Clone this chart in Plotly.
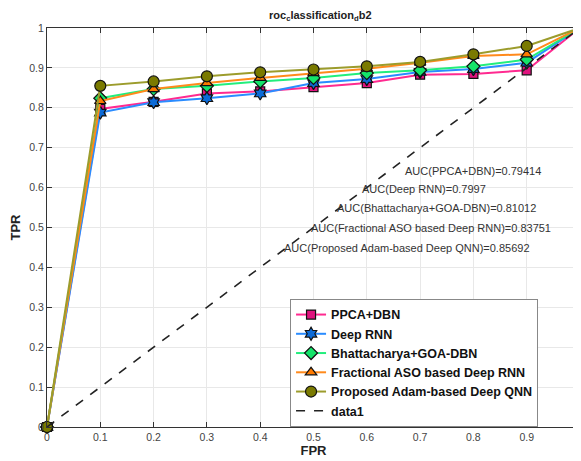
import plotly.graph_objects as go

fpr = [0, 0.1, 0.2, 0.3, 0.4, 0.5, 0.6, 0.7, 0.8, 0.9, 1.0]
ppca_dbn = [0, 0.797, 0.815, 0.836, 0.841, 0.852, 0.862, 0.883, 0.885, 0.894, 1.0]
deep_rnn = [0, 0.788, 0.814, 0.824, 0.836, 0.862, 0.872, 0.890, 0.897, 0.913, 1.0]
bhatt_goa = [0, 0.824, 0.847, 0.855, 0.866, 0.875, 0.887, 0.894, 0.904, 0.921, 1.0]
frac_aso = [0, 0.817, 0.847, 0.862, 0.875, 0.887, 0.898, 0.913, 0.930, 0.934, 1.0]
proposed = [0, 0.855, 0.866, 0.879, 0.889, 0.896, 0.904, 0.915, 0.934, 0.955, 1.0]
diag_x = [0, 1]
diag_y = [0, 1]

names = ["PPCA+DBN", "Deep RNN", "Bhattacharya+GOA-DBN",
         "Fractional ASO based Deep RNN", "Proposed Adam-based Deep QNN"]
auc_texts = ["AUC(PPCA+DBN)=0.79414", "AUC(Deep RNN)=0.7997",
             "AUC(Bhattacharya+GOA-DBN)=0.81012",
             "AUC(Fractional ASO based Deep RNN)=0.83751",
             "AUC(Proposed Adam-based Deep QNN)=0.85692"]
auc_x = [0.668, 0.587, 0.540, 0.491, 0.440]
auc_y = [0.641, 0.596, 0.548, 0.498, 0.448]
tick_vals = [0, 0.1, 0.2, 0.3, 0.4, 0.5, 0.6, 0.7, 0.8, 0.9, 1]
tick_text = ["0", "0.1", "0.2", "0.3", "0.4", "0.5", "0.6", "0.7", "0.8", "0.9", "1"]

series = [ppca_dbn, deep_rnn, bhatt_goa, frac_aso, proposed]
line_colors = ["#FF2A90", "#2A8CFF", "#22EE7C", "#FF8A1C", "#9C9C2C"]
fill_colors = ["#E0137E", "#0C6BD8", "#14E46A", "#FF7A00", "#7A7A00"]
symbols = ["square", "hexagram", "diamond", "triangle-up", "circle"]
sizes = [9, 10, 10, 10, 11]

FONT = "Liberation Sans, Arial, sans-serif"

fig = go.Figure()
for ys, nm, lc, fc, sy, sz in zip(series, names, line_colors, fill_colors, symbols, sizes):
    fig.add_trace(go.Scatter(
        x=fpr, y=ys, name="<b>" + nm + "</b>", mode="lines+markers",
        line=dict(color=lc, width=2),
        marker=dict(symbol=sy, size=sz, color=fc, line=dict(color="#111111", width=1.2)),
        cliponaxis=False,
    ))
fig.add_trace(go.Scatter(
    x=diag_x, y=diag_y, name="<b>data1</b>", mode="lines",
    line=dict(color="#222222", width=1.6, dash="dash"),
))

for t, ax, ay in zip(auc_texts, auc_x, auc_y):
    fig.add_annotation(x=ax, y=ay, text=t, showarrow=False, xanchor="left",
                       yanchor="middle", font=dict(size=11, color="#333333", family=FONT))

axis_common = dict(
    range=[0, 1], showgrid=True, gridcolor="#E8E8E8", gridwidth=1,
    showline=True, linecolor="#333333", linewidth=1, mirror="ticks",
    ticks="inside", ticklen=5, tickcolor="#333333", zeroline=False,
    tickfont=dict(size=10.5, color="#444444", family=FONT),
)
fig.update_xaxes(**axis_common, tickvals=tick_vals[:-1], ticktext=tick_text[:-1],
                 title=dict(text="<b>FPR</b>", standoff=2,
                            font=dict(size=13, color="#222222", family=FONT)))
fig.update_yaxes(**axis_common, tickvals=tick_vals, ticktext=tick_text,
                 title=dict(text="<b>TPR</b>", standoff=6,
                            font=dict(size=13, color="#222222", family=FONT)))

# page body has an 8px margin, so the figure is sized to 573x453
fig.update_layout(
    width=573, height=453,
    margin=dict(l=39, r=1, t=20, b=34),
    paper_bgcolor="white", plot_bgcolor="white",
    title=dict(text="<b>roc<sub>c</sub>lassification<sub>d</sub>b2</b>", x=0.545, xanchor="center",
               y=0.985, yanchor="middle",
               font=dict(size=11, color="#222222", family=FONT)),
    legend=dict(x=0.456, y=0.321, xanchor="left", yanchor="top",
                bgcolor="white", bordercolor="#888888", borderwidth=1,
                itemwidth=30, tracegroupgap=0,
                font=dict(size=12.5, color="#111111", family=FONT)),
    font=dict(family=FONT),
)

fig.write_html("out.html")
